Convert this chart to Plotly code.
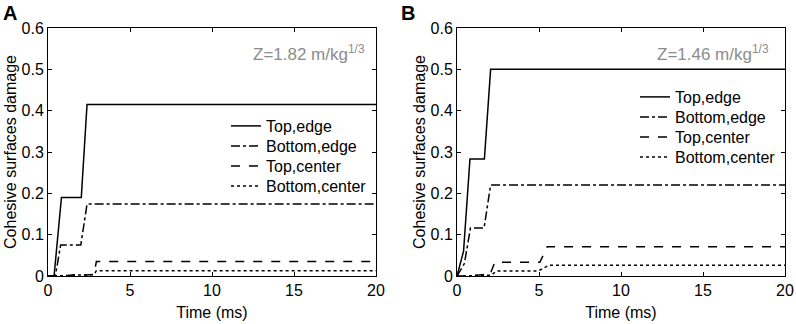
import plotly.graph_objects as go

# ---------------- data ----------------
# Panel A (Z=1.82 m/kg^1/3)
a_top_edge_t = [0, 0.37, 0.82, 2.03, 2.38, 20]
a_top_edge_v = [0, 0, 0.19, 0.19, 0.415, 0.415]
a_bot_edge_t = [0, 0.45, 0.77, 2.0, 2.38, 20]
a_bot_edge_v = [0, 0, 0.075, 0.075, 0.174, 0.174]
a_top_center_t = [0, 0.5, 1.2, 1.7, 2.0, 2.5, 2.8, 2.95, 20]
a_top_center_v = [0, 0, 0.001, 0.003, 0.001, 0.003, 0.004, 0.035, 0.035]
a_bot_center_t = [0, 0.5, 1.7, 2.4, 2.8, 2.95, 20]
a_bot_center_v = [0, 0, 0.002, 0.002, 0.003, 0.013, 0.013]

# Panel B (Z=1.46 m/kg^1/3)
b_top_edge_t = [0, 0.4, 0.79, 1.67, 2.05, 20]
b_top_edge_v = [0, 0.06, 0.283, 0.283, 0.5, 0.5]
b_bot_edge_t = [0, 0.45, 0.82, 1.65, 2.05, 20]
b_bot_edge_v = [0, 0.03, 0.116, 0.116, 0.22, 0.22]
b_top_center_t = [0, 0.5, 1.2, 1.7, 2.0, 2.3, 5.05, 5.5, 20]
b_top_center_v = [0, 0, 0.002, 0.004, 0.002, 0.033, 0.033, 0.071, 0.071]
b_bot_center_t = [0, 0.5, 1.7, 2.1, 2.4, 4.95, 5.6, 20]
b_bot_center_v = [0, 0, 0.002, 0.002, 0.012, 0.012, 0.026, 0.026]

series_names = ["Top,edge", "Bottom,edge", "Top,center", "Bottom,center"]
dashes = ["solid", "dashdot", "dash", "dot"]
z_labels = ["Z=1.82 m/kg<sup>1/3</sup>", "Z=1.46 m/kg<sup>1/3</sup>"]
panel_labels = ["A", "B"]
x_ticks = [0, 5, 10, 15, 20]
y_ticks = [0, 0.1, 0.2, 0.3, 0.4, 0.5, 0.6]

panels = [
    [(a_top_edge_t, a_top_edge_v), (a_bot_edge_t, a_bot_edge_v),
     (a_top_center_t, a_top_center_v), (a_bot_center_t, a_bot_center_v)],
    [(b_top_edge_t, b_top_edge_v), (b_bot_edge_t, b_bot_edge_v),
     (b_top_center_t, b_top_center_v), (b_bot_center_t, b_bot_center_v)],
]

FONT = "Liberation Sans, Arial, sans-serif"
FS = 16
W, H = 796, 324
ML, MR, MT, MB = 48, 11, 28, 48
PW, PH = W - ML - MR, H - MT - MB


def px_x(px):
    return (px - ML) / PW


def px_y(py):
    return (H - MB - py) / PH


# legend placement (pixel positions of each entry's vertical center, left edge)
legend_rows = [[126, 146, 166, 186], [97, 117, 137, 157]]
legend_left = [226, 635]
z_pos_x = [19.48, 19.15]

fig = go.Figure()
layout_legends = {}
k = 0
for p, data in enumerate(panels):
    xa = "x" if p == 0 else "x2"
    ya = "y" if p == 0 else "y2"
    for i, ((t, v), name, d) in enumerate(zip(data, series_names, dashes)):
        k += 1
        lname = "legend" if k == 1 else "legend%d" % k
        fig.add_trace(go.Scatter(
            x=t, y=v, mode="lines", name=name, xaxis=xa, yaxis=ya, legend=lname,
            showlegend=True,
            line=dict(color="black", width=1.5, dash=d),
        ))
        layout_legends[lname] = dict(
            x=px_x(legend_left[p]), y=px_y(legend_rows[p][i]),
            xanchor="left", yanchor="middle",
            bgcolor="rgba(0,0,0,0)", borderwidth=0,
            font=dict(family=FONT, size=FS, color="black"),
        )

xdoms = [[0, px_x(376)], [px_x(457), 1]]

axis_common = dict(
    showline=True, linecolor="black", linewidth=1, mirror="ticks",
    ticks="inside", ticklen=4, tickcolor="black", showgrid=False, zeroline=False,
    tickfont=dict(family=FONT, size=FS, color="black"),
    title_font=dict(family=FONT, size=FS, color="black"),
)

fig.update_layout(
    width=W, height=H,
    margin=dict(l=ML, r=MR, t=MT, b=MB, autoexpand=False),
    plot_bgcolor="white", paper_bgcolor="white",
    showlegend=True,
    font=dict(family=FONT, size=FS, color="black"),
    xaxis=dict(domain=xdoms[0], range=[0, 20], tickvals=x_ticks, anchor="y",
               title=dict(text="Time (ms)", standoff=8), **axis_common),
    yaxis=dict(domain=[0, 1], range=[0, 0.6], tickvals=y_ticks, anchor="x",
               tickformat="~g",
               title=dict(text="Cohesive surfaces damage", standoff=0), **axis_common),
    xaxis2=dict(domain=xdoms[1], range=[0, 20], tickvals=x_ticks, anchor="y2",
                title=dict(text="Time (ms)", standoff=8), **axis_common),
    yaxis2=dict(domain=[0, 1], range=[0, 0.6], tickvals=y_ticks, anchor="x2",
                tickformat="~g",
                title=dict(text="Cohesive surfaces damage", standoff=0), **axis_common),
    **layout_legends,
)

for p in range(2):
    xr = "x" if p == 0 else "x2"
    yr = "y" if p == 0 else "y2"
    fig.add_annotation(x=z_pos_x[p], y=0.54, xref=xr, yref=yr, text=z_labels[p],
                       showarrow=False, xanchor="right", yanchor="middle",
                       font=dict(family=FONT, size=17, color="#8c8c8c"))
    fig.add_annotation(x=px_x(1 if p == 0 else 399), y=px_y(0), xref="paper", yref="paper",
                       text="<b>%s</b>" % panel_labels[p], showarrow=False,
                       xanchor="left", yanchor="top",
                       font=dict(family=FONT, size=20, color="black"))

fig.write_html("out.html", config={"displayModeBar": False},
               post_script="document.body.style.margin='0px';document.body.style.padding='0px';")
